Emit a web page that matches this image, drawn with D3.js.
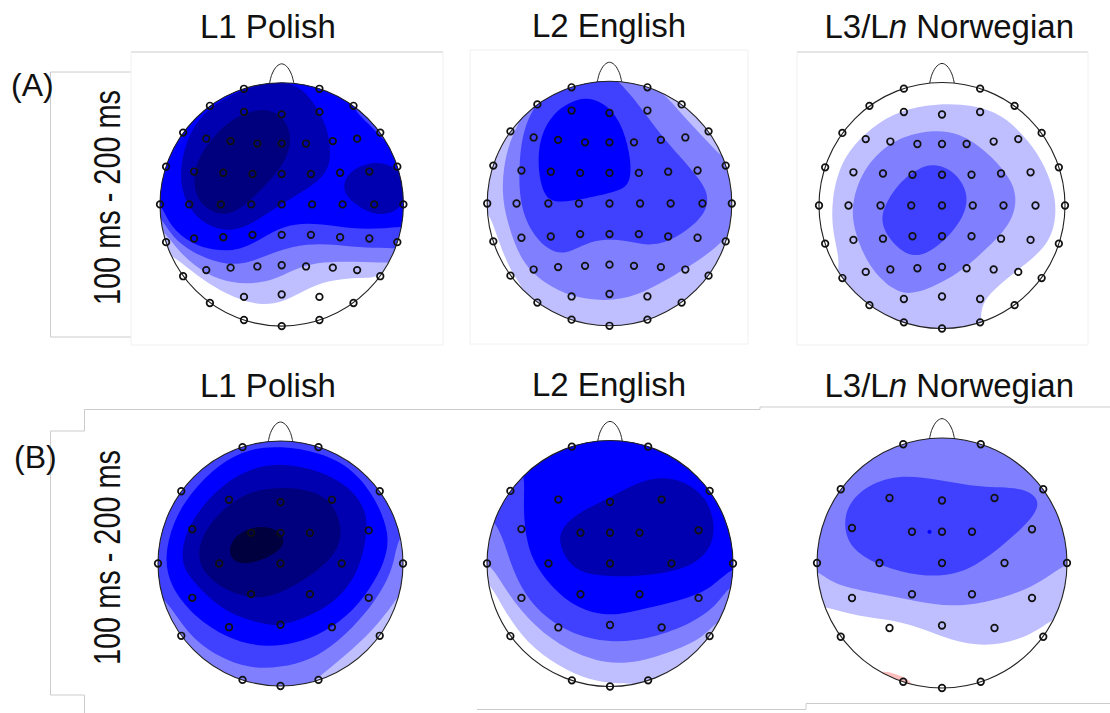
<!DOCTYPE html>
<html>
<head>
<meta charset="utf-8">
<script src="https://cdn.jsdelivr.net/npm/d3@7"></script>
<style>
  html, body { margin: 0; padding: 0; background: #fff; }
  svg { display: block; }
  text { font-family: "Liberation Sans", Arial, sans-serif; fill: #111; }
</style>
</head>
<body>
<svg id="chart" width="1110" height="713"></svg>
<script>
// Head units: -100..100 on both axes, +y towards the nose.
const rowLabels = ['(A)', '(B)'];
const timeLabel = '100 ms - 200 ms';
const titles = ['L1 Polish', 'L2 English', 'L3/Ln Norwegian'];

// Electrodes
const electrodesRim = [
  [-31, 95], [31, 95], [-81, 59], [81, 59], [-100, 0], [100, 0],
  [-81, -59], [81, -59], [-31, -95], [31, -95], [0, -100]
];
const electrodesRimExtra = [
  [-59, 81], [59, 81], [-95, 31], [95, 31], [-95, -31], [95, -31], [-59, -81], [59, -81]
];
const electrodesInnerDense = [
  [-31, 76], [0, 74], [31, 76],
  [-62, 54], [-42, 52], [-20, 50], [0, 50], [20, 50], [42, 52], [62, 54],
  [-72, 27], [-48, 26], [-24, 25], [0, 25], [24, 25], [48, 26], [72, 27],
  [-76, 0], [-50, 0], [-25, 0], [0, 0], [25, 0], [50, 0], [76, 0],
  [-72, -28], [-48, -27], [-24, -25], [0, -25], [24, -25], [48, -27], [72, -28],
  [-62, -54], [-42, -52], [-20, -51], [0, -50], [20, -51], [42, -52], [62, -54],
  [-31, -76], [0, -74], [31, -76]
];
const electrodesInnerSparse = [
  [-42, 52], [0, 50], [42, 52],
  [-72, 28], [-24, 25], [0, 25], [24, 25], [72, 27],
  [-50, 0], [0, 0], [50, 0],
  [-72, -28], [-24, -25], [24, -25], [72, -28],
  [-42, -52], [0, -50], [42, -52]
];

// Runs outside the head, closes regions that fill everything above a boundary
const overTop = [[135, -10], [135, 135], [-135, 135], [-135, -10]];

// Contour regions per panel, [level, outline], lightest painted first
const contoursA1 = [
  [-1, [[-110, -30], [-89, -43], [-75, -54], [-56, -68], [-34, -79], [-15, -83], [1, -80], [15, -73], [32, -64], [56, -60], [78, -61], [84, -54], [110, -45], ...overTop]],
  [-2, [[-110, -15], [-97, -21], [-84, -40], [-62, -58], [-40, -65], [-21, -65], [-4, -61], [15, -51], [34, -47], [59, -47], [88, -48], [110, -48], ...overTop]],
  [-3, [[-110, -5], [-99, -10], [-89, -29], [-67, -43], [-45, -50], [-26, -48], [-4, -38], [21, -32], [45, -33], [70, -36], [92, -36], [110, -36], ...overTop]],
  [-4, [[-110, 5], [-100, 3], [-92, -18], [-75, -32], [-56, -38], [-34, -38], [-15, -27], [1, -18], [21, -15], [45, -18], [70, -21], [99, -18], [115, -18], [115, 30], [86, 50], [70, 68], [56, 80], [55, 115], [-100, 115], [-130, 30]]],
  [-5, [[7, 101], [23, 90], [38, 64], [41, 39], [36, 23], [15, 9], [-4, -2], [-21, -14], [-40, -23], [-62, -18], [-78, -2], [-85, 23], [-78, 56], [-62, 78], [-40, 91], [-18, 99]]],
  [-5, [[50, 16], [56, 28], [75, 36], [95, 31], [105, 15], [100, -2], [84, -10], [67, -5], [53, 6]]],
  [-6, [[-15, 80], [1, 73], [9, 56], [4, 36], [-12, 17], [-32, -3], [-48, -10], [-64, -3], [-73, 12], [-71, 34], [-59, 53], [-40, 72]]]
];
const contoursA2 = [
  [-1, [[-115, 10], [-98, -8], [-93, -24], [-86, -43], [-78, -60], [-69, -70], [-60, -110], [130, -110], [140, 110], [-110, 110]]],
  [-2, [[-85, 95], [-66, 78], [-80, 57], [-87, 30], [-88, 3], [-81, -24], [-71, -49], [-54, -65], [-30, -77], [-3, -80], [21, -76], [48, -62], [82, -41], [99, -24], [112, -11], [116, 30], [96, 33], [79, 52], [58, 74], [45, 90], [28, 100], [24, 112], [-54, 112]]],
  [-3, [[-60, 92], [-59, 81], [-69, 66], [-74, 38], [-74, 3], [-66, -21], [-51, -38], [-37, -42], [-22, -34], [-8, -29], [14, -30], [31, -35], [51, -31], [75, -13], [81, 0], [79, 14], [58, 38], [41, 57], [21, 85], [7, 100], [0, 106], [-50, 106]]],
  [-4, [[-20, 87], [-5, 83], [9, 68], [17, 41], [18, 18], [9, 10], [-20, 4], [-44, 0], [-54, 6], [-59, 30], [-57, 55], [-46, 74], [-32, 83]]]
];
const contoursA3 = [
  [-1, [[15, 83], [45, 77], [65, 59], [82, 37], [94, 5], [91, -23], [79, -39], [62, -52], [45, -66], [34, -77], [31, -90], [33, -101], [31, -110], [-40, -115], [-88, -65], [-82, -47], [-89, -23], [-90, 5], [-82, 37], [-63, 59], [-40, 75], [-13, 82]]],
  [-2, [[-9, 62], [15, 59], [35, 45], [55, 24], [62, 5], [55, -17], [35, -36], [15, -55], [-23, -74], [-40, -69], [-60, -50], [-73, -17], [-73, 5], [-63, 32], [-40, 54]]],
  [-3, [[-9, 34], [8, 30], [21, 13], [20, -6], [4, -28], [-19, -44], [-36, -36], [-50, -17], [-48, -1], [-33, 21], [-19, 30]]]
];
const contoursB1 = [
  [-1, [[-130, -130], [130, -130], [130, 130], [-130, 130]]],
  [-2, [[130, -10], [101, -19], [93, -32], [76, -54], [52, -76], [31, -93], [15, -105], [-130, -115], [-130, 130], [130, 130]]],
  [-3, [[-115, -20], [-96, -24], [-77, -57], [-52, -76], [-25, -86], [0, -85], [24, -79], [46, -65], [71, -40], [88, -13], [93, 3], [98, 30], [130, 50], [130, 130], [-130, 130], [-130, -20]]],
  [-4, [[0, 96], [32, 91], [60, 77], [79, 51], [89, 24], [86, 5], [78, -13], [61, -38], [35, -57], [13, -65], [-14, -69], [-44, -61], [-71, -43], [-90, -19], [-95, 5], [-88, 33], [-75, 56], [-50, 82], [-25, 94]]],
  [-5, [[-3, 83], [29, 77], [57, 63], [70, 43], [71, 27], [65, -5], [47, -30], [24, -43], [0, -51], [-11, -50], [-39, -43], [-60, -27], [-77, -8], [-81, 4], [-78, 26], [-60, 53], [-33, 75]]],
  [-6, [[-2, 62], [21, 61], [43, 52], [52, 24], [43, 5], [24, -11], [-3, -26], [-22, -29], [-44, -23], [-63, -8], [-68, 7], [-63, 26], [-44, 48], [-22, 60]]],
  [-7, [[-20, 31], [-3, 29], [5, 18], [-3, 8], [-25, -1], [-39, 1], [-43, 12], [-36, 24]]]
];
const contoursB2 = [
  [-1, [[-120, -5], [-98, -14], [-88, -35], [-68, -65], [-41, -84], [-17, -95], [7, -98], [27, -97], [35, -110], [130, -110], [130, 130], [-120, 130]]],
  [-2, [[-120, 5], [-98, 3], [-84, -24], [-61, -52], [-34, -71], [-3, -82], [24, -80], [47, -73], [78, -60], [88, -43], [120, -45], [130, 130], [-120, 130]]],
  [-3, [[-120, 50], [-91, 38], [-81, -3], [-64, -35], [-34, -57], [0, -65], [34, -61], [68, -48], [88, -33], [98, -16], [120, -10], [130, 130], [-120, 130]]],
  [-4, [[-85, 95], [-68, 76], [-71, 49], [-68, 14], [-57, -8], [-37, -30], [-14, -41], [7, -42], [27, -37], [57, -30], [81, -22], [98, -3], [120, 0], [130, 130], [-120, 130]]],
  [-5, [[41, 71], [61, 67], [78, 54], [85, 35], [84, 16], [71, 0], [47, -8], [14, -11], [-14, -10], [-32, -3], [-41, 14], [-41, 27], [-27, 41], [-3, 52], [20, 65]]]
];
const contoursB3 = [
  [-1, [[-120, -30], [-93, -35], [-66, -43], [-43, -45], [-19, -51], [7, -62], [34, -67], [61, -62], [81, -51], [91, -43], [120, -40], ...overTop]],
  [-2, [[-120, 0], [-99, -6], [-86, -18], [-53, -24], [-19, -31], [7, -35], [34, -32], [61, -24], [81, -14], [99, 0], [120, 5], [135, 135], [-135, 135]]],
  [-3, [[-36, 71], [-3, 67], [31, 60], [64, 61], [79, 51], [74, 37], [51, 16], [27, -3], [1, -12], [-33, -8], [-66, 5], [-78, 21], [-78, 43], [-63, 61]]],
  [-4, [[-12.5, 25], [-10, 27.5], [-7.5, 25], [-10, 22.5]]],
  [1, [[-53, -84], [-36, -89], [-21, -95], [-21, -120], [-65, -105]]]
];

const nosePoints = [[-10, 99.5], [-8, 107], [-4, 113.5], [0, 115.5], [4, 113.5], [8, 107], [10, 99.5]];

const levelColor = d3.scaleOrdinal()
  .domain([1, -1, -2, -3, -4, -5, -6, -7])
  .range(['#ffbfbf', '#bfbfff', '#8080ff', '#4040ff', '#0000ff', '#0000b0', '#00007f', '#00003f']);

const denseElectrodes = [...electrodesRim, ...electrodesRimExtra, ...electrodesInnerDense];
const sparseElectrodes = [...electrodesRim, ...electrodesInnerSparse];

const panels = [
  { id: 'a1', cx: 281.7, cy: 204.4, r: 121.7, contours: contoursA1, electrodes: denseElectrodes },
  { id: 'a2', cx: 609.5, cy: 203.5, r: 122.3, contours: contoursA2, electrodes: denseElectrodes },
  { id: 'a3', cx: 942, cy: 205.5, r: 123, contours: contoursA3, electrodes: denseElectrodes },
  { id: 'b1', cx: 280.5, cy: 563.5, r: 122.5, contours: contoursB1, electrodes: sparseElectrodes },
  { id: 'b2', cx: 610, cy: 563.5, r: 123, contours: contoursB2, electrodes: sparseElectrodes },
  { id: 'b3', cx: 942, cy: 563, r: 125, contours: contoursB3, electrodes: sparseElectrodes }
];

const svg = d3.select('#chart');

// ===================== SCRAPS OF THE PASTED FIGURE FRAMES =====================

const frameLines = [
  { d: 'M50.5,72H131M50.5,72V337M50.5,337H131M131,52H443', c: '#ccc' },
  { d: 'M443,52V345M131,345H443M131,52V345', c: '#f0f0f0' },
  { d: 'M470,50H748V344H470Z', c: '#f0f0f0' },
  { d: 'M797,52H1088', c: '#ccc' },
  { d: 'M1088,52V345H797V52', c: '#f0f0f0' },
  { d: 'M50.5,431V695M50.5,431H84.5V409.5H760V407H1110M50.5,695H84.5V713', c: '#ccc' },
  { d: 'M477,709.5H806V703.5H1110', c: '#ccc' }
];
svg.append('g').selectAll('path').data(frameLines).join('path')
  .attr('d', d => d.d)
  .attr('fill', 'none')
  .attr('stroke', d => d.c)
  .attr('stroke-width', 1);

// ===================== HEADS =====================

panels.forEach(p => {
  const x = d3.scaleLinear().domain([-100, 100]).range([p.cx - p.r, p.cx + p.r]);
  const y = d3.scaleLinear().domain([-100, 100]).range([p.cy + p.r, p.cy - p.r]);
  const g = svg.append('g').attr('class', 'panel-' + p.id);

  g.append('clipPath').attr('id', 'clip-' + p.id)
    .append('circle').attr('cx', x(0)).attr('cy', y(0)).attr('r', p.r);

  const outline = d3.line().x(d => x(d[0])).y(d => y(d[1])).curve(d3.curveBasisClosed);
  g.append('g').attr('clip-path', `url(#clip-${p.id})`)
    .selectAll('path').data(p.contours).join('path')
    .attr('d', d => outline(d[1]))
    .attr('fill', d => levelColor(d[0]));

  g.append('circle')
    .attr('cx', x(0)).attr('cy', y(0)).attr('r', p.r)
    .attr('fill', 'none').attr('stroke', '#222').attr('stroke-width', 1.1);

  const nose = d3.line().x(d => x(d[0])).y(d => y(d[1])).curve(d3.curveCatmullRom);
  g.append('path').attr('d', nose(nosePoints))
    .attr('fill', 'none').attr('stroke', '#222').attr('stroke-width', 1);

  g.append('g').selectAll('circle').data(p.electrodes).join('circle')
    .attr('cx', d => x(d[0])).attr('cy', d => y(d[1]))
    .attr('r', 3.3)
    .attr('fill', 'none').attr('stroke', '#111').attr('stroke-width', 1.7);
});

// ===================== TEXT =====================

const titleX = [200, 532, 824.5];
const titleY = [[38, 37, 38], [397, 396, 397]];
titleY.forEach(row => {
  titles.forEach((t, i) => {
    const el = svg.append('text').attr('x', titleX[i]).attr('y', row[i]).attr('font-size', 33);
    if (t.includes('Ln')) {
      el.append('tspan').text('L3/L');
      el.append('tspan').attr('font-style', 'italic').text('n');
      el.append('tspan').text(' Norwegian');
    } else {
      el.text(t);
    }
  });
});

svg.append('text').attr('x', 11).attr('y', 96).attr('font-size', 32).text(rowLabels[0]);
svg.append('text').attr('x', 14).attr('y', 468).attr('font-size', 32).text(rowLabels[1]);

[305, 665].forEach(y0 => {
  svg.append('text')
    .attr('transform', `translate(120,${y0}) rotate(-90)`)
    .attr('font-size', 36)
    .attr('textLength', 215)
    .attr('lengthAdjust', 'spacingAndGlyphs')
    .text(timeLabel);
});
</script>
</body>
</html>
